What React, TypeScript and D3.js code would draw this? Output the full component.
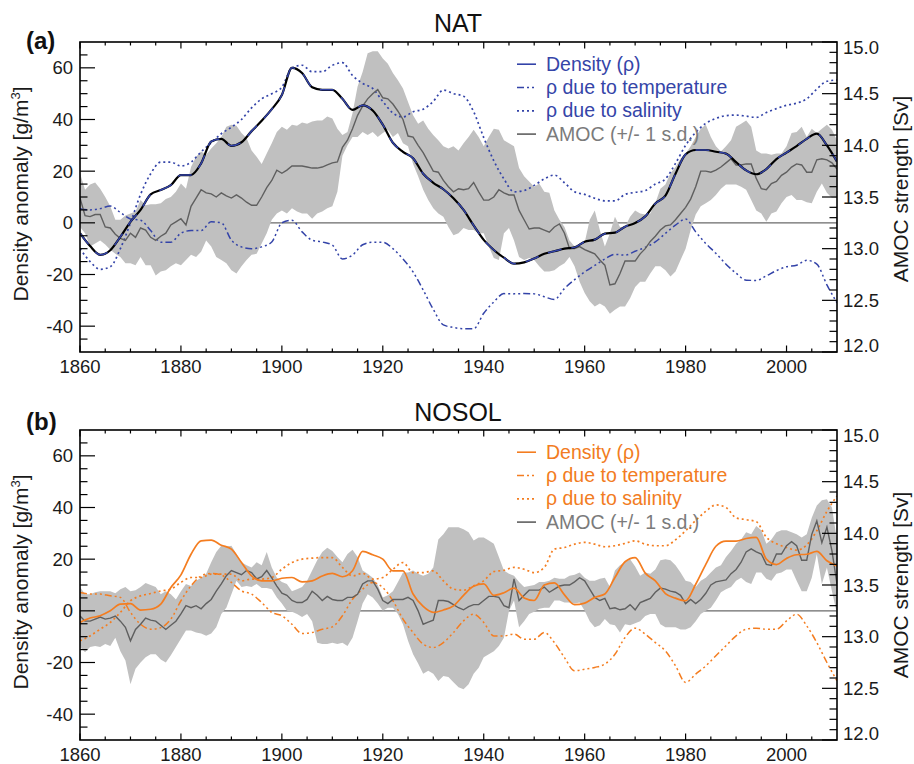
import React from 'react';
import * as d3 from 'd3';

// ---- data ----
const YEARS = d3.range(1860, 2011);      // yearly AMOC series
const YEARS2 = d3.range(1860, 2011, 2);  // density curves, every 2 years

// NAT: density anomaly [g/m3]
const NAT_RHO = [-4, -9, -12.4, -10.6, -5.4, 0.4, 5, 11, 12.7, 14.6, 18.5, 18.5, 23, 31.5, 32.5, 29.8, 31.2, 35.5, 39.5, 44,
  49.5, 60, 58, 52.5, 51.5, 51.5, 48, 43.7, 45.5, 43.5, 38, 31, 27.5, 25, 19, 15.5, 13, 9.5, 5, -1,
  -6.6, -10.5, -13.5, -15.8, -15.3, -13.8, -12, -11, -10, -9.5, -7.3, -6.5, -4.2, -3.8, -1.5, -0.1, 2.5, 7.5, 10.5, 19,
  26.5, 28.2, 28.2, 27.5, 26.8, 23.5, 20.3, 18.8, 20.8, 24.7, 27.2, 29.7, 32.5, 34.5, 30, 23.7];
const NAT_TEMP = [5.5, 5, 5.5, 6.5, 4, 1.5, 1, -3, -7.5, -7.5, -4, -3, -3, 0.4, 0, -6.7, -9.3, -10, -9.3, -7.4,
  0, 1, -3.5, -6.7, -7.4, -8.6, -14, -12.5, -8.5, -7.5, -7.5, -10, -14, -19, -26, -33.5, -39.5, -40.5, -41, -41,
  -35, -30.6, -27.4, -27.5, -27.4, -27.5, -28.6, -29.7, -25.4, -22, -19, -16.5, -14, -12.2, -12.5, -11, -9.5, -7.4, -4.1, -0.9,
  1.5, -3.5, -8, -11.8, -16, -19.5, -22.2, -22.3, -20.5, -18.5, -17, -16.4, -14.5, -16, -24, -31];
const NAT_SAL = [-10, -15, -18, -17, -10, 0, 11, 19, 23.5, 23.5, 22, 23.5, 27.5, 31, 34.5, 37, 40, 44.5, 48, 50,
  52.5, 60, 61, 58.5, 58.5, 61, 62, 57, 54, 52, 47, 42.5, 41, 43, 44, 47, 51.4, 50, 49, 43,
  33, 24, 17, 12, 12.5, 14.5, 17, 18.5, 15.5, 12, 11, 9.5, 8.5, 8.5, 11, 11.8, 12.5, 15, 17, 23,
  30, 35, 38.5, 40.4, 41.5, 41.7, 41.3, 40.8, 42.7, 44.2, 45.5, 46.3, 48, 51.8, 54.8, 55.3];

// NAT: AMOC strength [Sv], mean and +/- 1 s.d.
const NAT_AMOC = [
  13.49, 13.32, 13.31, 13.33, 13.33, 13.21, 13.20, 13.14, 13.10, 13.08,
  13.15, 13.11, 13.20, 13.18, 13.11, 13.08, 13.12, 13.15, 13.23, 13.26,
  13.29, 13.23, 13.41, 13.49, 13.57, 13.54, 13.53, 13.50, 13.54, 13.51,
  13.49, 13.52, 13.49, 13.45, 13.42, 13.42, 13.50, 13.59, 13.66, 13.76,
  13.73, 13.76, 13.80, 13.80, 13.80, 13.79, 13.78, 13.78, 13.79, 13.81,
  13.83, 13.84, 13.98, 14.05, 14.16, 14.29, 14.38, 14.45, 14.50, 14.54,
  14.46, 14.45, 14.40, 14.33, 14.25, 14.09, 14.08, 14.00, 13.93, 13.84,
  13.75, 13.74, 13.66, 13.60, 13.55, 13.58, 13.57, 13.58, 13.64, 13.55,
  13.47, 13.47, 13.50, 13.57, 13.54, 13.52, 13.52, 13.37, 13.28, 13.19,
  13.20, 13.20, 13.18, 13.16, 13.21, 13.24, 13.15, 13.00, 13.00, 13.02,
  12.99, 12.97, 12.95, 12.89, 12.84, 12.65, 12.66, 12.76, 12.88, 12.88,
  12.88, 12.95, 13.00, 13.07, 13.12, 13.18, 13.22, 13.23, 13.28, 13.34,
  13.40, 13.48, 13.60, 13.75, 13.75, 13.74, 13.76, 13.79, 13.83, 13.87,
  13.81, 13.81, 13.82, 13.82, 13.68, 13.58, 13.57, 13.63, 13.65, 13.71,
  13.74, 13.79, 13.82, 13.81, 13.74, 13.74, 13.86, 13.87, 13.86, 13.83,
  13.77];
const NAT_UP = [
  13.73, 13.57, 13.62, 13.64, 13.58, 13.50, 13.41, 13.28, 13.28, 13.32,
  13.34, 13.36, 13.47, 13.42, 13.43, 13.43, 13.44, 13.48, 13.50, 13.55,
  13.63, 13.58, 13.79, 13.89, 13.94, 13.91, 13.97, 14.02, 14.08, 14.18,
  14.20, 14.19, 14.12, 14.07, 13.95, 13.89, 13.82, 13.92, 14.02, 14.13,
  14.18, 14.15, 14.20, 14.19, 14.22, 14.21, 14.23, 14.24, 14.24, 14.28,
  14.26, 14.16, 14.10, 14.13, 14.31, 14.57, 14.71, 14.89, 14.91, 14.91,
  14.84, 14.79, 14.70, 14.63, 14.55, 14.42, 14.29, 14.21, 14.24, 14.16,
  14.10, 14.05, 13.99, 13.97, 13.99, 13.95, 14.02, 14.08, 14.15, 14.08,
  13.99, 14.08, 14.16, 14.15, 14.05, 14.02, 13.99, 13.78, 13.70, 13.65,
  13.60, 13.63, 13.55, 13.54, 13.37, 13.28, 13.21, 13.08, 13.02, 13.04,
  13.06, 13.28, 13.37, 13.18, 13.02, 13.15, 13.31, 13.21, 13.21, 13.31,
  13.37, 13.34, 13.33, 13.34, 13.44, 13.58, 13.62, 13.73, 13.79, 13.87,
  13.92, 13.99, 14.08, 14.16, 14.20, 14.08, 13.99, 13.94, 13.99, 14.05,
  14.18, 14.21, 14.24, 14.18, 13.95, 13.92, 13.92, 13.91, 13.92, 13.92,
  13.99, 14.12, 14.13, 14.18, 14.08, 14.16, 14.12, 14.16, 14.20, 14.15,
  14.05];
const NAT_LO = [
  13.21, 13.15, 13.02, 13.05, 13.08, 13.04, 12.99, 12.95, 12.92, 12.86,
  12.86, 12.84, 12.92, 12.84, 12.84, 12.74, 12.78, 12.79, 12.83, 12.86,
  12.84, 12.89, 12.94, 12.92, 12.97, 13.08, 13.02, 12.92, 12.89, 12.86,
  12.79, 12.76, 12.83, 12.89, 12.94, 12.95, 13.05, 13.15, 13.28, 13.34,
  13.37, 13.34, 13.39, 13.36, 13.34, 13.34, 13.29, 13.34, 13.36, 13.39,
  13.41, 13.55, 13.90, 14.00, 14.08, 14.08, 14.13, 14.10, 14.13, 14.08,
  14.12, 14.15, 14.08, 14.12, 14.02, 13.99, 13.82, 13.70, 13.57, 13.47,
  13.39, 13.34, 13.31, 13.21, 13.13, 13.15, 13.20, 13.18, 13.18, 13.15,
  13.15, 13.02, 12.91, 12.89, 13.15, 13.20, 13.08, 12.92, 12.89, 12.91,
  12.89, 12.83, 12.78, 12.78, 12.79, 12.83, 12.86, 12.92, 12.83, 12.68,
  12.57, 12.49, 12.44, 12.47, 12.44, 12.37, 12.41, 12.44, 12.44, 12.52,
  12.63, 12.68, 12.68, 12.76, 12.83, 12.83, 12.79, 12.73, 12.78, 12.89,
  13.00, 13.18, 13.33, 13.41, 13.44, 13.47, 13.52, 13.58, 13.62, 13.62,
  13.62, 13.60, 13.57, 13.47, 13.37, 13.34, 13.26, 13.34, 13.36, 13.44,
  13.50, 13.52, 13.47, 13.47, 13.45, 13.44, 13.55, 13.63, 13.54, 13.49,
  13.49];

// NOSOL: density anomaly [g/m3]
const NOSOL_RHO = [-4.5, -2.8, -1.9, 0, 2.6, 2.8, 0.3, 0.6, 2.6, 9, 13.9, 21.9, 27.1, 27.4, 25.4, 23.9, 18.7, 13.5, 11.6, 11.6,
  12.6, 12.9, 11.2, 11.6, 13.5, 14.5, 13.2, 15.5, 23, 21.7, 20, 15.5, 15.5, 6.5, 1.7, -0.6, 0.3, 1.9, 6, 9.5,
  10.4, 6, 7, 8.8, 5, 4, 10, 10.8, 6.2, 2.4, 3, 5.2, 6.5, 12.9, 19, 20.6, 14.6, 11.6, 6.7, 4.9,
  3.9, 10.3, 18, 25, 27, 27, 28, 28.4, 20, 17.9, 20.3, 21.7, 21.9, 23, 19.4, 17.4];
const NOSOL_TEMP = [7.1, 6.5, 6.5, 5.8, 5.2, -0.6, -5.2, -7.1, -6.5, -3.2, 3.9, 9.7, 13.5, 14.5, 13.9, 11, 7.7, 6.5, 3.2, -0.6,
  -1.9, -5.2, -8.8, -8.4, -7.1, -6.2, -1.9, 4.5, 8.4, 11, 9, 3.9, -3.2, -8.4, -12.9, -14.2, -12.3, -8.4, -3.9, -1.3,
  -4.5, -9.7, -9.7, -9, -11, -11, -8.4, -12.3, -18.1, -23.2, -22.6, -21.9, -20.6, -16.8, -10.3, -6.7, -9, -12.3, -15.5, -21.3,
  -27.7, -24.5, -21.3, -17.4, -13.5, -9.7, -7.1, -6.7, -7.1, -7.1, -3.9, -1.3, -5.8, -12.3, -20, -27.1];
const NOSOL_SAL = [-11.6, -9.7, -7.1, -4.5, -0.6, 3.9, 5.8, 6.7, 7.7, 8.4, 11, 12.9, 12.9, 14.2, 14.2, 14.2, 11.6, 12.3, 12.3, 12.9,
  16.1, 18.7, 20, 20.4, 20.6, 20.6, 16.8, 13.5, 14.5, 12.3, 12.9, 16.1, 18.7, 14.8, 14.8, 15.5, 11.6, 8.4, 8, 9.7,
  11.6, 15.2, 15.7, 16.8, 16.1, 14.8, 16.8, 23.9, 24.5, 25.8, 26.5, 25.8, 24.8, 25.2, 26.1, 27.1, 25.8, 25.2, 25.2, 27.5,
  31, 35, 38.5, 41, 40, 36, 35.3, 34.5, 28.5, 26, 24.5, 23.5, 25.5, 31, 38.5, 44.5];

// NOSOL: AMOC strength [Sv]
const NOSOL_AMOC = [
  13.20, 13.15, 13.15, 13.17, 13.19, 13.17, 13.18, 13.20, 13.15, 13.09,
  12.96, 13.07, 13.12, 13.18, 13.16, 13.15, 13.11, 13.07, 13.11, 13.15,
  13.22, 13.30, 13.28, 13.30, 13.27, 13.32, 13.36, 13.44, 13.51, 13.59,
  13.64, 13.62, 13.60, 13.64, 13.62, 13.56, 13.58, 13.64, 13.57, 13.49,
  13.42, 13.40, 13.35, 13.33, 13.33, 13.36, 13.44, 13.40, 13.35, 13.39,
  13.36, 13.35, 13.35, 13.38, 13.38, 13.41, 13.51, 13.54, 13.54, 13.46,
  13.35, 13.32, 13.36, 13.36, 13.36, 13.38, 13.35, 13.25, 13.12, 13.14,
  13.16, 13.35, 13.35, 13.34, 13.31, 13.28, 13.26, 13.29, 13.31, 13.31,
  13.35, 13.39, 13.39, 13.38, 13.30, 13.28, 13.56, 13.35, 13.40, 13.45,
  13.45, 13.45, 13.48, 13.43, 13.46, 13.49, 13.50, 13.50, 13.53, 13.57,
  13.54, 13.46, 13.38, 13.35, 13.37, 13.27, 13.28, 13.26, 13.27, 13.31,
  13.26, 13.33, 13.35, 13.37, 13.43, 13.47, 13.46, 13.44, 13.43, 13.40,
  13.32, 13.36, 13.32, 13.36, 13.42, 13.50, 13.53, 13.54, 13.55, 13.61,
  13.65, 13.72, 13.82, 13.85, 13.82, 13.80, 13.70, 13.69, 13.80, 13.80,
  13.88, 13.92, 13.88, 13.74, 13.74, 13.99, 14.12, 13.91, 14.06, 13.83,
  13.51];
const NOSOL_UP = [
  13.48, 13.41, 13.41, 13.43, 13.44, 13.44, 13.44, 13.42, 13.46, 13.48,
  13.44, 13.45, 13.48, 13.52, 13.50, 13.48, 13.41, 13.44, 13.41, 13.36,
  13.44, 13.51, 13.49, 13.54, 13.57, 13.61, 13.72, 13.82, 13.88, 13.87,
  13.88, 13.80, 13.72, 13.69, 13.67, 13.72, 13.69, 13.82, 13.67, 13.57,
  13.53, 13.51, 13.44, 13.46, 13.48, 13.54, 13.64, 13.74, 13.82, 13.86,
  13.83, 13.77, 13.72, 13.80, 13.84, 13.77, 13.64, 13.61, 13.57, 13.50,
  13.38, 13.40, 13.44, 13.53, 13.62, 13.62, 13.64, 13.61, 13.59, 13.61,
  13.67, 13.94, 13.99, 14.06, 14.06, 14.06, 14.04, 14.01, 13.93, 13.96,
  13.96, 13.93, 13.90, 13.77, 13.64, 13.61, 13.59, 13.53, 13.48, 13.49,
  13.50, 13.53, 13.53, 13.54, 13.57, 13.56, 13.56, 13.59, 13.60, 13.62,
  13.57, 13.54, 13.54, 13.56, 13.57, 13.48, 13.64, 13.69, 13.72, 13.75,
  13.68, 13.59, 13.62, 13.61, 13.65, 13.74, 13.75, 13.74, 13.69, 13.62,
  13.54, 13.53, 13.48, 13.54, 13.57, 13.62, 13.67, 13.69, 13.77, 13.83,
  13.90, 13.94, 14.01, 13.99, 14.07, 14.03, 13.90, 13.94, 14.01, 14.03,
  14.03, 14.01, 13.99, 13.96, 13.99, 14.15, 14.27, 14.32, 14.33, 14.25,
  13.93];
const NOSOL_LO = [
  12.90, 12.85, 12.90, 12.91, 12.90, 12.93, 12.91, 12.99, 12.86, 12.77,
  12.54, 12.69, 12.75, 12.80, 12.83, 12.83, 12.78, 12.75, 12.82, 12.90,
  12.98, 13.06, 13.06, 13.04, 13.03, 13.01, 13.03, 13.09, 13.22, 13.28,
  13.41, 13.54, 13.48, 13.49, 13.48, 13.51, 13.47, 13.47, 13.46, 13.38,
  13.32, 13.25, 13.24, 13.22, 13.19, 13.22, 13.15, 12.94, 12.93, 12.93,
  12.94, 12.93, 12.94, 12.91, 12.99, 13.15, 13.32, 13.41, 13.38, 13.32,
  13.25, 13.28, 13.28, 13.22, 13.12, 12.96, 12.83, 12.74, 12.64, 12.67,
  12.64, 12.57, 12.62, 12.61, 12.56, 12.51, 12.49, 12.54, 12.64, 12.70,
  12.80, 12.83, 12.86, 12.91, 12.99, 13.25, 13.35, 13.09, 13.15, 13.22,
  13.24, 13.27, 13.28, 13.28, 13.35, 13.35, 13.33, 13.33, 13.32, 13.33,
  13.25, 13.15, 13.09, 13.11, 13.17, 13.12, 13.11, 13.04, 13.12, 13.11,
  13.13, 13.15, 13.20, 13.22, 13.22, 13.12, 13.09, 13.09, 13.09, 13.07,
  13.07, 13.09, 13.15, 13.22, 13.25, 13.28, 13.35, 13.43, 13.46, 13.48,
  13.54, 13.57, 13.53, 13.51, 13.62, 13.62, 13.56, 13.54, 13.61, 13.62,
  13.65, 13.65, 13.54, 13.44, 13.44, 13.57, 13.80, 13.51, 13.67, 13.44,
  13.22];

const LEFT_TICKS = [-40, -20, 0, 20, 40, 60];
const RIGHT_TICKS = [12.0, 12.5, 13.0, 13.5, 14.0, 14.5, 15.0];
const YEAR_TICKS = [1860, 1880, 1900, 1920, 1940, 1960, 1980, 2000];
const LEGEND = ['Density (\u03c1)', '\u03c1 due to temperature', '\u03c1 due to salinity', 'AMOC (+/- 1 s.d.)'];

// ---- layout ----
const FONT = '"Liberation Sans", Arial, Helvetica, sans-serif';
const X0 = 80, X1 = 837, PH = 310;
const DOT = '2 3';
const DASHDOT = '7 3 2 3 2 3 2 3';
const GREY = '#5f5f5f';
const SHADE = '#c0c0c0';

const PANELS = [
  { id: 'a', top: 42, title: 'NAT', tag: '(a)', tagY: 49, titleY: 32, rTitleY: 147, color: '#3343a8', text: '#3545a8',
    rho: NAT_RHO, temp: NAT_TEMP, sal: NAT_SAL, amoc: NAT_AMOC, up: NAT_UP, lo: NAT_LO, blackUnder: true },
  { id: 'b', top: 430, title: 'NOSOL', tag: '(b)', tagY: 430, titleY: 421, rTitleY: 155, color: '#f47d20', text: '#f27c22',
    rho: NOSOL_RHO, temp: NOSOL_TEMP, sal: NOSOL_SAL, amoc: NOSOL_AMOC, up: NOSOL_UP, lo: NOSOL_LO, blackUnder: false },
];

function Panel({ p }: { p: any }) {
  const top = p.top;
  const x = d3.scaleLinear().domain([1860, 2010]).range([X0, X1]);
  const y = d3.scaleLinear().domain([-50, 70]).range([top + PH, top]);
  const yR = d3.scaleLinear().domain([12, 15]).range([top + PH, top]);

  const smooth = d3.line<number>().x((_, i) => x(YEARS2[i])).y(d => y(d)).curve(d3.curveMonotoneX);
  const amocLine = d3.line<number>().x((_, i) => x(YEARS[i])).y(d => yR(d));
  const band = d3.area<number>().x(i => x(YEARS[i])).y0(i => yR(p.lo[i])).y1(i => yR(p.up[i]));
  const idx = YEARS.map((_, i) => i);

  const minorY = d3.range(-45, 70, 5).filter(v => v % 20 !== 0);
  const minorR = d3.range(121, 150).map(v => v / 10).filter(v => Math.round(v * 10) % 5 !== 0);
  const minorX = d3.range(1865, 2010, 5).filter(v => v % 20 !== 0);
  const clip = `clip-${p.id}`;

  return (
    <g>
      <defs>
        <clipPath id={clip}><rect x={X0} y={top} width={X1 - X0} height={PH} /></clipPath>
      </defs>
      <g clipPath={`url(#${clip})`}>
        <line x1={x(1860)} x2={x(2010)} y1={y(0)} y2={y(0)} stroke="#6a6a6a" strokeWidth={1.4} />
        <path d={band(idx) || ''} fill={SHADE} />
        <path d={smooth(p.sal) || ''} fill="none" stroke={p.color} strokeWidth={1.7} strokeDasharray={DOT} />
        <path d={smooth(p.temp) || ''} fill="none" stroke={p.color} strokeWidth={1.5} strokeDasharray={DASHDOT} />
        <path d={amocLine(p.amoc) || ''} fill="none" stroke={GREY} strokeWidth={1.4} />
        {p.blackUnder && <path d={smooth(p.rho) || ''} fill="none" stroke="#000" strokeWidth={2.2} />}
        <path d={smooth(p.rho) || ''} fill="none" stroke={p.color} strokeWidth={p.blackUnder ? 1.5 : 1.7}
          strokeDasharray={p.blackUnder ? '14 10' : undefined} />
      </g>

      {/* ticks */}
      <g stroke="#000" strokeWidth={1.2}>
        {LEFT_TICKS.map(v => <line key={'lm' + v} x1={X0} x2={X0 + 15} y1={y(v)} y2={y(v)} />)}
        {minorY.map(v => <line key={'ln' + v} x1={X0} x2={X0 + 7.5} y1={y(v)} y2={y(v)} />)}
        {RIGHT_TICKS.map(v => <line key={'rm' + v} x1={X1} x2={X1 - 15} y1={yR(v)} y2={yR(v)} />)}
        {minorR.map(v => <line key={'rn' + v} x1={X1} x2={X1 - 7.5} y1={yR(v)} y2={yR(v)} />)}
        {YEAR_TICKS.map(v => (
          <g key={'xm' + v}>
            <line x1={x(v)} x2={x(v)} y1={top + PH} y2={top + PH - 6.5} />
            <line x1={x(v)} x2={x(v)} y1={top} y2={top + 6.5} />
          </g>
        ))}
        {minorX.map(v => (
          <g key={'xn' + v}>
            <line x1={x(v)} x2={x(v)} y1={top + PH} y2={top + PH - 3.5} />
            <line x1={x(v)} x2={x(v)} y1={top} y2={top + 3.5} />
          </g>
        ))}
      </g>
      <rect x={X0} y={top} width={X1 - X0} height={PH} fill="none" stroke="#000" strokeWidth={1.6} />

      {/* tick labels */}
      <g fontFamily={FONT} fontSize={18.5} fill="#1a1a1a">
        {LEFT_TICKS.map(v => (
          <text key={'tl' + v} x={73} y={y(v)} dy="0.36em" textAnchor="end">{v}</text>
        ))}
        {RIGHT_TICKS.map(v => (
          <text key={'tr' + v} x={843} y={yR(v) + (v === 15 ? 5 : v === 12 ? -7 : 0)} dy="0.36em">{v.toFixed(1)}</text>
        ))}
        {YEAR_TICKS.map(v => (
          <text key={'ty' + v} x={x(v)} y={top + 331} textAnchor="middle">{v}</text>
        ))}
      </g>

      {/* axis titles */}
      <text fontFamily={FONT} fontSize={21} fill="#1a1a1a" textAnchor="middle"
        transform={`translate(28,${top + 152}) rotate(-90)`}>
        Density anomaly [g/m<tspan dy="-8" fontSize={13}>3</tspan><tspan dy="8">]</tspan>
      </text>
      <text fontFamily={FONT} fontSize={21} fill="#1a1a1a" textAnchor="middle"
        transform={`translate(908,${top + p.rTitleY}) rotate(-90)`}>AMOC strength [Sv]</text>

      <text x={458} y={p.titleY} fontFamily={FONT} fontSize={25} fill="#111" textAnchor="middle">{p.title}</text>
      <text x={26} y={p.tagY} fontFamily={FONT} fontSize={24} fontWeight="bold" fill="#111">{p.tag}</text>

      {/* legend */}
      <g fontFamily={FONT} fontSize={19.5}>
        {LEGEND.map((label, i) => {
          const by = top + 28.7 + i * 23.3;
          const isAmoc = i === 3;
          const dash = i === 1 ? DASHDOT : i === 2 ? DOT : undefined;
          return (
            <g key={label}>
              <line x1={517} x2={536} y1={by - 6.5} y2={by - 6.5} stroke={isAmoc ? GREY : p.color}
                strokeWidth={i === 2 ? 1.7 : 1.6} strokeDasharray={dash} />
              <text x={546} y={by} fill={isAmoc ? '#7b7b7b' : p.text}>{label}</text>
            </g>
          );
        })}
      </g>
    </g>
  );
}

export default function App() {
  return (
    <svg width={914} height={764} viewBox="0 0 914 764"
      style={{ position: 'absolute', left: 0, top: 0, background: '#fff' }}>
      <rect width={914} height={764} fill="#fff" />
      {PANELS.map(p => <Panel key={p.id} p={p} />)}
    </svg>
  );
}
